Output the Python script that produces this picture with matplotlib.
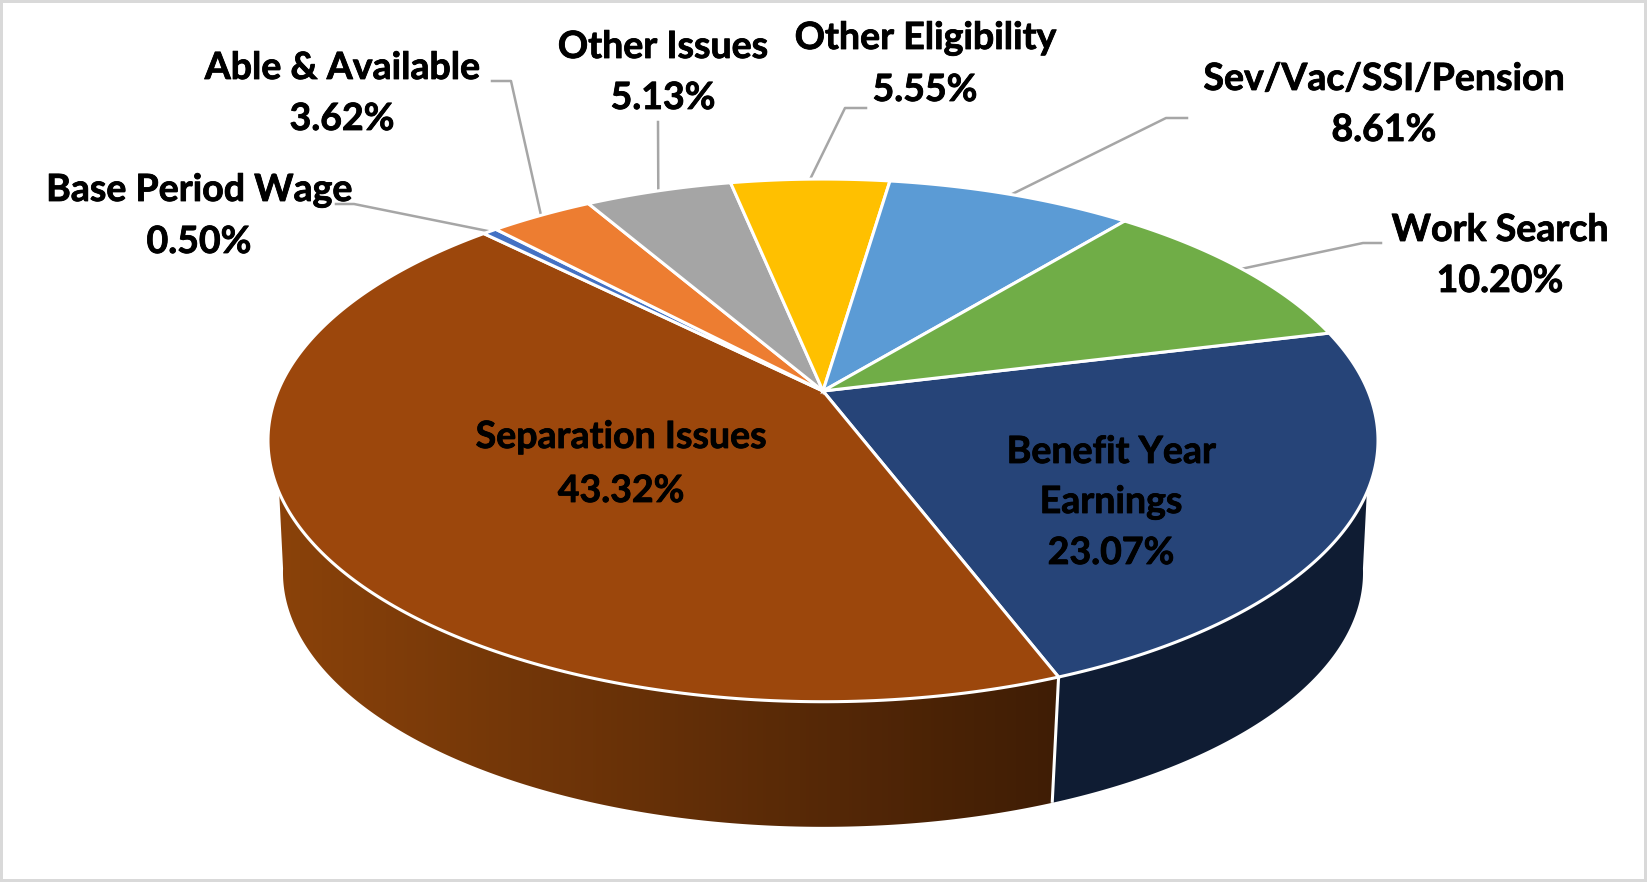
import numpy as np
import matplotlib
matplotlib.use('Agg')
import matplotlib.pyplot as plt
import matplotlib.patheffects as pe
from matplotlib.patches import Polygon

# clockwise from the Benefit Year Earnings slice
categories = ['Benefit Year\nEarnings', 'Separation Issues', 'Base Period Wage', 'Able & Available',
              'Other Issues', 'Other Eligibility', 'Sev/Vac/SSI/Pension', 'Work Search']
values = [23.07, 43.32, 0.50, 3.62, 5.13, 5.55, 8.61, 10.20]
colors = ['#264478', '#9C470C', '#4472C4', '#ED7D31', '#A5A5A5', '#FFC000', '#5B9BD5', '#70AD47']

START_ANGLE = 13.9
CX, CY = 823, 391
A, B, K = 545, 252, 0.189
BOTTOM_Y, BOTTOM_S = 524.5, 0.973


def project(theta, bottom=False):
    # tilted disc with a bit of perspective, angles in degrees
    t = np.radians(theta)
    u, v = np.cos(t), np.sin(t)
    w = 1 + K * v
    if bottom:
        return CX + BOTTOM_S * A * u / w, BOTTOM_Y - BOTTOM_S * B * v / w
    return CX + A * u / w, CY - B * v / w


def arc(t1, t2, bottom=False):
    ts = np.linspace(t1, t2, 200)
    x, y = project(ts, bottom)
    return np.column_stack([x, y])


edges = START_ANGLE - np.cumsum([0] + values) * 3.6
mids = (edges[:-1] + edges[1:]) / 2

fig = plt.figure(figsize=(16.47, 8.82), dpi=100)
ax = fig.add_axes([0, 0, 1, 1])
ax.set_xticks([])
ax.set_yticks([])
for s in ax.spines.values():
    s.set_linewidth(4.3)
    s.set_color('#D9D9D9')

# side walls, only the two front slices show
split = edges[1]
blue_wall = np.vstack([arc(-22, split), arc(split, -10, True)])
ax.add_patch(Polygon(blue_wall, closed=True, fc='#0F1C33', ec='none', zorder=1))

brown_wall = np.vstack([arc(split, -158), arc(-170, split, True)])
patch = Polygon(brown_wall, closed=True, fc='none', ec='none', zorder=1)
ax.add_patch(patch)
grad = matplotlib.colors.LinearSegmentedColormap.from_list('wall', ['#8A420A', '#3F1D05'])
im = ax.imshow(np.linspace(0, 1, 256).reshape(1, -1), cmap=grad, aspect='auto', zorder=1,
               extent=[brown_wall[:, 0].min(), brown_wall[:, 0].max(), 882, 0])
im.set_clip_path(patch)

x1, y1 = project(split)
x2, y2 = project(split, True)
ax.plot([x1, x2], [y1, y2], color='white', lw=2.2, zorder=2, solid_capstyle='butt')

# top face
for i in range(len(values)):
    pts = np.vstack([[CX, CY], arc(edges[i], edges[i + 1])])
    ax.add_patch(Polygon(pts, closed=True, fc=colors[i], ec='white', lw=2.2, joinstyle='miter', zorder=3))

# labels: center x, y of the name line and of the percent line
label_pos = {
    'Benefit Year\nEarnings': (1111, 452, 553),
    'Separation Issues': (621, 437, 491),
    'Base Period Wage': (199, 190, 242),
    'Able & Available': (342, 68, 119),
    'Other Issues': (663, 47, 98),
    'Other Eligibility': (925, 38, 90),
    'Sev/Vac/SSI/Pension': (1384, 79, 130),
    'Work Search': (1500, 230, 281),
}
heavier = [pe.withStroke(linewidth=0.6, foreground='black')]
for name, val in zip(categories, values):
    x, yn, yp = label_pos[name]
    lines = name.split('\n')
    for j, line in enumerate(lines):
        ax.text(x, yn + j * 50, line, ha='center', va='center', fontsize=27, fontweight='bold',
                family='Lato', color='black', zorder=5, path_effects=heavier)
    ax.text(x, yp, f'{val:.2f}%', ha='center', va='center', fontsize=27, fontweight='bold',
            family='Lato', color='black', zorder=5, path_effects=heavier)

# leader lines, last point sits on the slice rim
leaders = {
    'Base Period Wage': [(336, 204), (354, 204)],
    'Able & Available': [(492, 81), (511, 81)],
    'Other Issues': [(658, 122)],
    'Other Eligibility': [(866, 108), (845, 108)],
    'Sev/Vac/SSI/Pension': [(1187, 118), (1166, 118)],
    'Work Search': [(1381, 243), (1363, 243)],
}
for i, name in enumerate(categories):
    if name in leaders:
        pts = leaders[name] + [project(mids[i])]
        ax.plot([p[0] for p in pts], [p[1] for p in pts], color='#A6A6A6', lw=1.8, zorder=2.5)

ax.set_xlim(0, 1647)
ax.set_ylim(882, 0)
fig.savefig('out.png', dpi=100)
